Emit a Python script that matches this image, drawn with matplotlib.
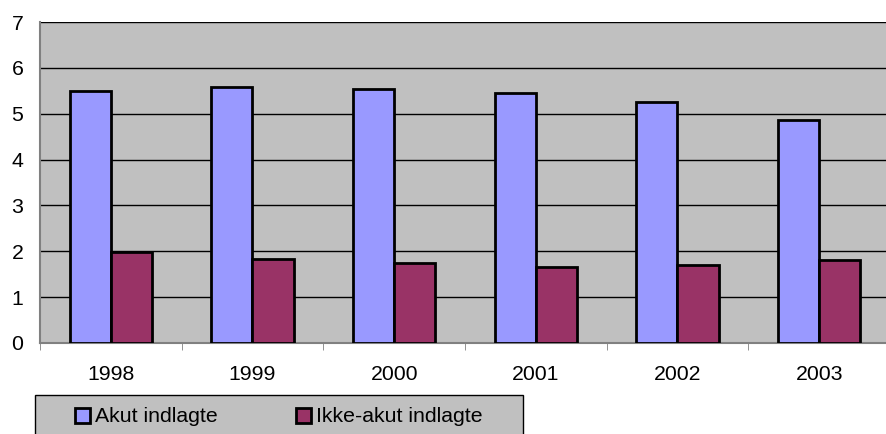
import numpy as np
import matplotlib.pyplot as plt
from matplotlib.patches import Rectangle, Patch

plt.rcParams['font.family'] = ['Liberation Sans', 'DejaVu Sans']

years = ['1998', '1999', '2000', '2001', '2002', '2003']
akut = [5.50, 5.58, 5.53, 5.45, 5.25, 4.86]
ikke_akut = [1.98, 1.83, 1.74, 1.66, 1.70, 1.81]
series_names = ['Akut indlagte', 'Ikke-akut indlagte']
colors = ['#9999FF', '#993366']

W, H = 887, 434
fig = plt.figure(figsize=(W / 100, H / 100), dpi=100)
ax = fig.add_axes([40 / W, (H - 343) / H, 850 / W, (343 - 22) / H])
ax.set_facecolor('#C0C0C0')

x = np.arange(len(years))
bw = 0.29
ax.bar(x - bw / 2, akut, bw, color=colors[0], edgecolor='black', linewidth=2, zorder=3)
ax.bar(x + bw / 2, ikke_akut, bw, color=colors[1], edgecolor='black', linewidth=2, zorder=3)

ax.set_xlim(-0.5, len(years) - 0.5)
ax.set_ylim(0, 7)
ax.set_yticks(range(0, 8))
ax.yaxis.grid(True, color='black', linewidth=1, zorder=1)
ax.set_axisbelow(True)

ax.set_xticks(x)
ax.set_xticklabels(years)
ax.set_xticks(np.arange(-0.5, len(years)), minor=True)
ax.tick_params(axis='x', which='major', length=0, pad=16, labelsize=15.3)
ax.tick_params(axis='x', which='minor', length=5, color='#808080')
ax.tick_params(axis='y', length=0, pad=12, labelsize=15.3)

for s in ['top', 'right']:
    ax.spines[s].set_visible(False)
ax.spines['left'].set_color('#808080')
ax.spines['bottom'].set_color('#808080')
ax.spines['left'].set_linewidth(1.5)
ax.spines['bottom'].set_linewidth(1.5)

# legend box (Excel style, runs off the bottom of the image)
fig.add_artist(Rectangle((35 / W, -0.05), 488 / W, (H - 395) / H + 0.05,
                         transform=fig.transFigure, facecolor='#C0C0C0',
                         edgecolor='black', linewidth=1, zorder=1))
for name, col, xpos in zip(series_names, colors, [75, 296]):
    h = Patch(facecolor=col, edgecolor='black', linewidth=2)
    fig.legend(handles=[h], labels=[name], loc='center left',
               bbox_to_anchor=(xpos / W, (H - 417) / H), fontsize=15.3, frameon=False,
               handlelength=0.7, handleheight=0.7, handletextpad=0.25,
               borderpad=0, borderaxespad=0)

fig.savefig('out.png', dpi=100)
